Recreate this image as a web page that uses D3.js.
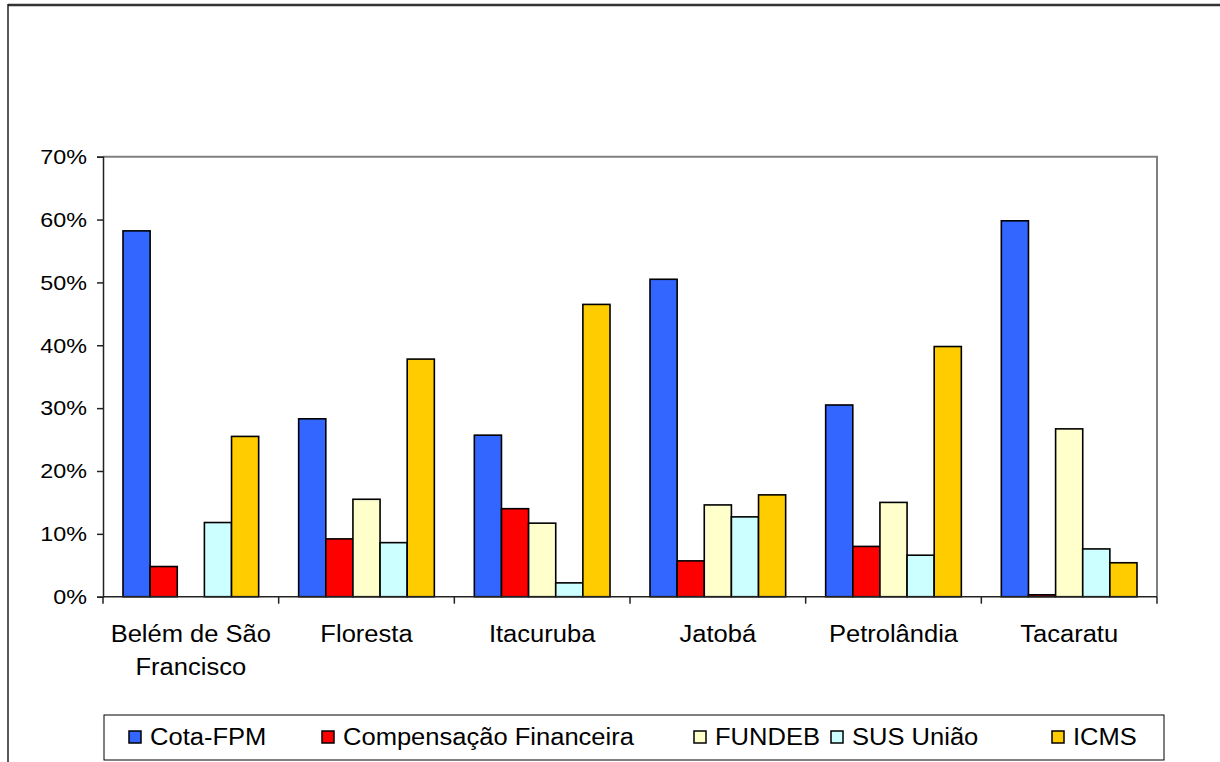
<!DOCTYPE html>
<html>
<head>
<meta charset="utf-8">
<script src="https://cdn.jsdelivr.net/npm/d3@7"></script>
<style>
  html, body { margin: 0; padding: 0; background: #fff; }
  svg { display: block; font-family: "Liberation Sans", Arial, sans-serif; }
</style>
</head>
<body>
<svg id="chart" width="1220" height="762"></svg>
<script>
// Municipalities (x-axis categories)
const categories = ["Belém de São Francisco", "Floresta", "Itacuruba", "Jatobá", "Petrolândia", "Tacaratu"];
// Category labels split into lines
const categoryLines = [["Belém de São", "Francisco"], ["Floresta"], ["Itacuruba"], ["Jatobá"], ["Petrolândia"], ["Tacaratu"]];

// Revenue sources (series)
const seriesNames = ["Cota-FPM", "Compensação Financeira", "FUNDEB", "SUS União", "ICMS"];
const seriesColors = ["#3366FF", "#FF0000", "#FFFFCC", "#CCFFFF", "#FFCC00"];

// Share of each revenue source per municipality (fractions)
const cotaFPM      = [0.582, 0.283, 0.257, 0.505, 0.305, 0.598];
const compensacao  = [0.048, 0.092, 0.140, 0.057, 0.080, 0.003];
const fundeb       = [0.000, 0.155, 0.117, 0.146, 0.150, 0.267];
const susUniao     = [0.118, 0.086, 0.022, 0.127, 0.066, 0.076];
const icms         = [0.255, 0.378, 0.465, 0.162, 0.398, 0.054];
const seriesValues = [cotaFPM, compensacao, fundeb, susUniao, icms];

// Y-axis ticks
const yTicks = [0, 0.1, 0.2, 0.3, 0.4, 0.5, 0.6, 0.7];

const svg = d3.select("#chart");
const stretch = 1.11; // horizontal text stretch

function stretchText(sel) {
  sel.each(function () {
    const w = this.getComputedTextLength();
    d3.select(this).attr("textLength", w * stretch).attr("lengthAdjust", "spacingAndGlyphs");
  });
}

// Outer chart frame
svg.append("line").attr("x1", 8).attr("x2", 1220).attr("y1", 5).attr("y2", 5)
  .attr("stroke", "#333").attr("stroke-width", 2.5);
svg.append("line").attr("x1", 8).attr("x2", 8).attr("y1", 4).attr("y2", 762)
  .attr("stroke", "#222").attr("stroke-width", 1.5);

const plot = { left: 103, right: 1157, top: 156.7, bottom: 596.7 };

const x = d3.scaleBand().domain(categories).range([plot.left, plot.right]).paddingInner(0).paddingOuter(0);
const groupPad = 20;
const xs = d3.scaleBand().domain(seriesNames).range([groupPad, x.bandwidth() - groupPad]).padding(0);
const y = d3.scaleLinear().domain([0, 0.7]).range([plot.bottom, plot.top]);

// Plot area border (top / right)
svg.append("path")
  .attr("d", `M${plot.left},${plot.top}H${plot.right}V${plot.bottom}`)
  .attr("fill", "none").attr("stroke", "#808080").attr("stroke-width", 2);

// Bars
const groups = svg.append("g").selectAll("g")
  .data(categories).join("g")
  .attr("transform", d => `translate(${x(d)},0)`);

groups.selectAll("rect")
  .data((c, i) => seriesNames.map((s, j) => ({ s, j, v: seriesValues[j][i] })).filter(d => d.v > 0))
  .join("rect")
  .attr("x", d => xs(d.s))
  .attr("width", xs.bandwidth())
  .attr("y", d => y(d.v))
  .attr("height", d => y(0) - y(d.v))
  .attr("fill", d => seriesColors[d.j])
  .attr("stroke", "#000")
  .attr("stroke-width", 1.6);

// Y axis
const yAxis = d3.axisLeft(y).tickValues(yTicks).tickFormat(d3.format(".0%")).tickSize(6).tickPadding(10);
const gy = svg.append("g").attr("transform", `translate(${plot.left},0)`).call(yAxis);
gy.select(".domain").attr("stroke", "#222").attr("stroke-width", 1.5);
gy.selectAll(".tick line").attr("stroke", "#222").attr("stroke-width", 1.5);
gy.selectAll(".tick text").attr("font-size", 21).attr("fill", "#000")
  .attr("font-family", "Liberation Sans, Arial, sans-serif").call(stretchText);

// X axis: boundary ticks between categories
const xAxisG = svg.append("g").attr("transform", `translate(0,${plot.bottom})`);
xAxisG.append("line").attr("x1", plot.left).attr("x2", plot.right)
  .attr("stroke", "#222").attr("stroke-width", 1.5);
const boundaries = categories.map(c => x(c)).concat([plot.right]);
xAxisG.selectAll(".bt").data(boundaries).join("line")
  .attr("x1", d => d).attr("x2", d => d).attr("y1", 0).attr("y2", 7)
  .attr("stroke", "#222").attr("stroke-width", 1.5);

// Category labels
categories.forEach((c, i) => {
  const cx = x(c) + x.bandwidth() / 2;
  categoryLines[i].forEach((line, k) => {
    svg.append("text")
      .attr("x", cx).attr("y", 642 + k * 33)
      .attr("text-anchor", "middle")
      .attr("font-size", 23)
      .attr("fill", "#000")
      .text(line)
      .call(stretchText);
  });
});

// Legend
const legend = svg.append("g");
legend.append("rect").attr("x", 104).attr("y", 715).attr("width", 1060).attr("height", 45)
  .attr("fill", "#fff").attr("stroke", "#000").attr("stroke-width", 1);
const legendX = [129, 322, 694, 831, 1052];
seriesNames.forEach((name, j) => {
  const g = legend.append("g").attr("transform", `translate(${legendX[j]},0)`);
  g.append("rect").attr("x", 0).attr("y", 731).attr("width", 12).attr("height", 12)
    .attr("fill", seriesColors[j]).attr("stroke", "#000").attr("stroke-width", 1.5);
  g.append("text").attr("x", 21).attr("y", 745).attr("font-size", 23).attr("fill", "#000")
    .text(name).call(stretchText);
});
</script>
</body>
</html>
